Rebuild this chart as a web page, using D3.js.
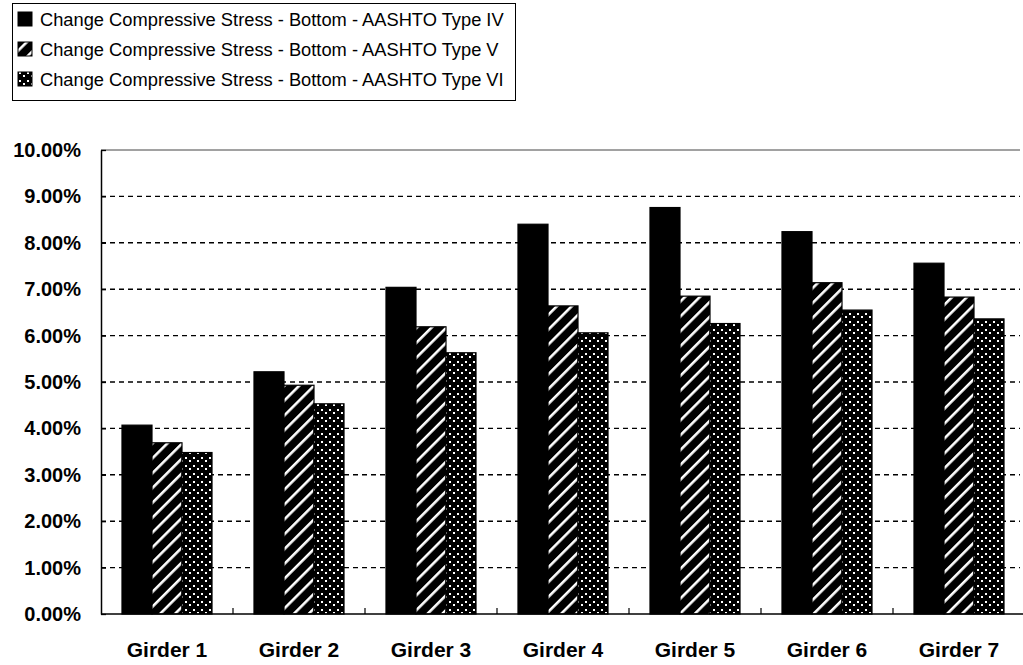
<!DOCTYPE html>
<html>
<head>
<meta charset="utf-8">
<script src="https://cdn.jsdelivr.net/npm/d3@7"></script>
<style>
  body { margin: 0; background: #fff; }
  svg { display: block; }
  .tick text { font-family: "Liberation Sans", Arial, sans-serif; font-weight: bold; fill: #000; }
  .legend text { font-family: "Liberation Sans", Arial, sans-serif; font-size: 18.3px; fill: #000; }
</style>
</head>
<body>
<svg id="chart"></svg>
<script>
const width = 1023, height = 665;

const girders = ["Girder 1", "Girder 2", "Girder 3", "Girder 4", "Girder 5", "Girder 6", "Girder 7"];
const seriesNames = [
  "Change Compressive Stress - Bottom - AASHTO Type IV",
  "Change Compressive Stress - Bottom - AASHTO Type V",
  "Change Compressive Stress - Bottom - AASHTO Type VI"
];
const typeIV = [0.0407, 0.0522, 0.0704, 0.0840, 0.0876, 0.0824, 0.0756];
const typeV = [0.0369, 0.0493, 0.0619, 0.0664, 0.0685, 0.0714, 0.0683];
const typeVI = [0.0348, 0.0453, 0.0563, 0.0606, 0.0626, 0.0655, 0.0636];
const yTicks = [0, 0.01, 0.02, 0.03, 0.04, 0.05, 0.06, 0.07, 0.08, 0.09, 0.10];

const seriesValues = [typeIV, typeV, typeVI];
const fills = ["#000", "url(#stripes)", "url(#dots)"];

const svg = d3.select("#chart")
  .attr("width", width)
  .attr("height", height);

const plot = { left: 101, right: 1025, top: 150, bottom: 614 };

// patterns
const defs = svg.append("defs");
const stripes = defs.append("pattern")
  .attr("id", "stripes")
  .attr("patternUnits", "userSpaceOnUse")
  .attr("width", 10.5)
  .attr("height", 10.5)
  .attr("patternTransform", "rotate(45)");
stripes.append("rect").attr("width", 10.5).attr("height", 10.5).attr("fill", "#000");
stripes.append("rect").attr("x", 0).attr("y", 0).attr("width", 2.6).attr("height", 10.5).attr("fill", "#fff");

const dots = defs.append("pattern")
  .attr("id", "dots")
  .attr("patternUnits", "userSpaceOnUse")
  .attr("width", 8)
  .attr("height", 8);
dots.append("rect").attr("width", 8).attr("height", 8).attr("fill", "#000");
dots.append("rect").attr("x", 1).attr("y", 1).attr("width", 2).attr("height", 2).attr("fill", "#fff");
dots.append("rect").attr("x", 5).attr("y", 4).attr("width", 2).attr("height", 2).attr("fill", "#fff");

const x = d3.scaleBand()
  .domain(girders)
  .range([plot.left, plot.right])
  .paddingInner(0.318)
  .paddingOuter(0.159);

const xs = d3.scaleBand()
  .domain(d3.range(seriesNames.length))
  .range([0, x.bandwidth()]);

const y = d3.scaleLinear()
  .domain([0, 0.10])
  .range([plot.bottom, plot.top]);

// gridlines
svg.append("g")
  .selectAll("line")
  .data(yTicks.filter(d => d > 0))
  .enter()
  .append("line")
  .attr("x1", plot.left)
  .attr("x2", 1020)
  .attr("y1", d => y(d))
  .attr("y2", d => y(d))
  .attr("stroke", d => d === 0.10 ? "#444" : "#000")
  .attr("stroke-width", d => d === 0.10 ? 1 : 1.4)
  .attr("stroke-dasharray", d => d === 0.10 ? null : "5,4");

// bars
const groups = svg.append("g")
  .selectAll("g")
  .data(seriesValues)
  .enter()
  .append("g")
  .attr("fill", (d, i) => fills[i]);

groups.selectAll("rect")
  .data((d, i) => d.map((v, j) => ({ s: i, g: girders[j], v: v })))
  .enter()
  .append("rect")
  .attr("x", d => x(d.g) + xs(d.s))
  .attr("y", d => y(d.v))
  .attr("width", xs.bandwidth())
  .attr("height", d => y(0) - y(d.v))
  .attr("stroke", "#000")
  .attr("stroke-width", 1.2);

// y axis
const yAxis = d3.axisLeft(y)
  .tickValues(yTicks)
  .tickFormat(d3.format(".2%"))
  .tickSizeInner(-5)
  .tickSizeOuter(0)
  .tickPadding(20);

svg.append("g")
  .attr("transform", "translate(" + plot.left + ",0)")
  .call(yAxis)
  .call(g => g.select(".domain").attr("stroke", "#000").attr("stroke-width", 1.5))
  .call(g => g.selectAll(".tick line").attr("stroke", "#000").attr("stroke-width", 1.3))
  .call(g => g.selectAll(".tick text").attr("font-size", 20));

// x axis
const xAxis = d3.axisBottom(x)
  .tickSize(0)
  .tickPadding(28);

svg.append("g")
  .attr("transform", "translate(0," + plot.bottom + ")")
  .call(xAxis)
  .call(g => g.select(".domain").attr("stroke", "#000").attr("stroke-width", 1.6).attr("d", "M" + plot.left + ",0H1023"))
  .call(g => g.selectAll(".tick text").attr("font-size", 21));

// category boundary ticks
svg.append("g")
  .selectAll("line")
  .data(girders.slice(1))
  .enter()
  .append("line")
  .attr("x1", d => x(d) - x.step() * x.paddingInner() / 2)
  .attr("x2", d => x(d) - x.step() * x.paddingInner() / 2)
  .attr("y1", plot.bottom)
  .attr("y2", plot.bottom - 6)
  .attr("stroke", "#000")
  .attr("stroke-width", 1.2);

// legend
const legend = svg.append("g").attr("class", "legend");
legend.append("rect")
  .attr("x", 12.5)
  .attr("y", 3.5)
  .attr("width", 503)
  .attr("height", 97)
  .attr("fill", "#fff")
  .attr("stroke", "#000")
  .attr("stroke-width", 1);

const items = legend.selectAll("g.item")
  .data(seriesNames)
  .enter()
  .append("g")
  .attr("class", "item")
  .attr("transform", (d, i) => "translate(18," + (19 + i * 30) + ")");

items.append("rect")
  .attr("x", 0)
  .attr("y", -7)
  .attr("width", 14)
  .attr("height", 14)
  .attr("fill", (d, i) => fills[i])
  .attr("stroke", "#000");

items.append("text")
  .attr("x", 22)
  .attr("y", 7)
  .text(d => d);
</script>
</body>
</html>
